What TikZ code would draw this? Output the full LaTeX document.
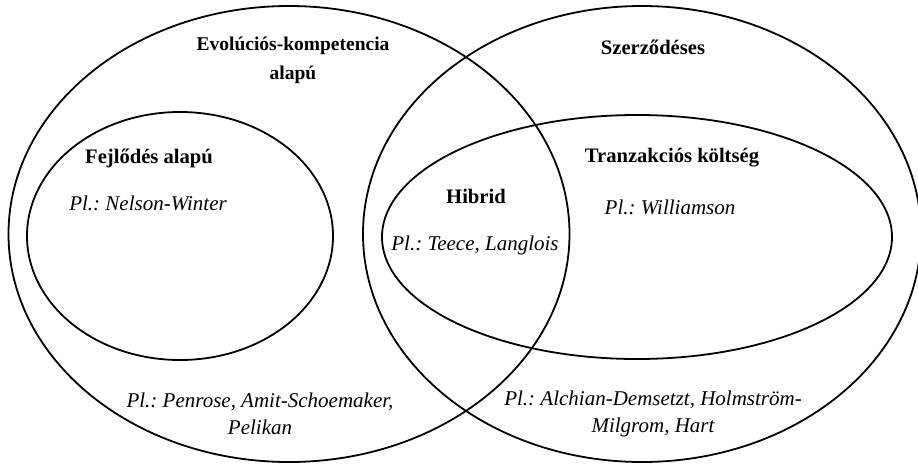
\documentclass[tikz,border=0pt]{standalone}
\usepackage{fontspec}
\setmainfont{Liberation Serif}
\frenchspacing
\begin{document}
\begin{tikzpicture}[x=1pt,y=-1pt,
  ring/.style={draw=black,line width=1.8pt},
  head/.style={font=\fontsize{20.6}{29}\selectfont\bfseries,align=center,inner sep=0pt},
  headsmall/.style={font=\fontsize{19.5}{29}\selectfont\bfseries,align=center,inner sep=0pt},
  ex/.style={font=\fontsize{21}{27}\selectfont\itshape,align=center,inner sep=0pt}]
\useasboundingbox (0,0) rectangle (918,464);
\draw[ring] (289,234) ellipse [x radius=280.5, y radius=228];
\draw[ring] (642,234) ellipse [x radius=279, y radius=228];
\draw[ring] (180,236) ellipse [x radius=153, y radius=124];
\draw[ring] (637,237) ellipse [x radius=255, y radius=122];
\node[headsmall] (evo) at (293,60) {Evolúciós-kompetencia\\alapú};
\node[head] (fej) at (149,158) {Fejlődés alapú};
\node[ex] (nw) at (148,203) {Pl.: Nelson-Winter};
\node[head] (szer) at (653,47) {Szerződéses};
\node[head] (tr) at (672,158) {Tranzakciós költség};
\node[ex] (wil) at (670,207) {Pl.: Williamson};
\node[head] (hib) at (476,196) {Hibrid};
\node[ex] (tl) at (475,245) {Pl.: Teece, Langlois};
\node[ex] (pen) at (260,414) {Pl.: Penrose, Amit-Schoemaker,\\Pelikan};
\node[ex] (alc) at (653,414) {Pl.: Alchian-Demsetzt, Holmström-\\Milgrom, Hart};
\end{tikzpicture}
\end{document}
